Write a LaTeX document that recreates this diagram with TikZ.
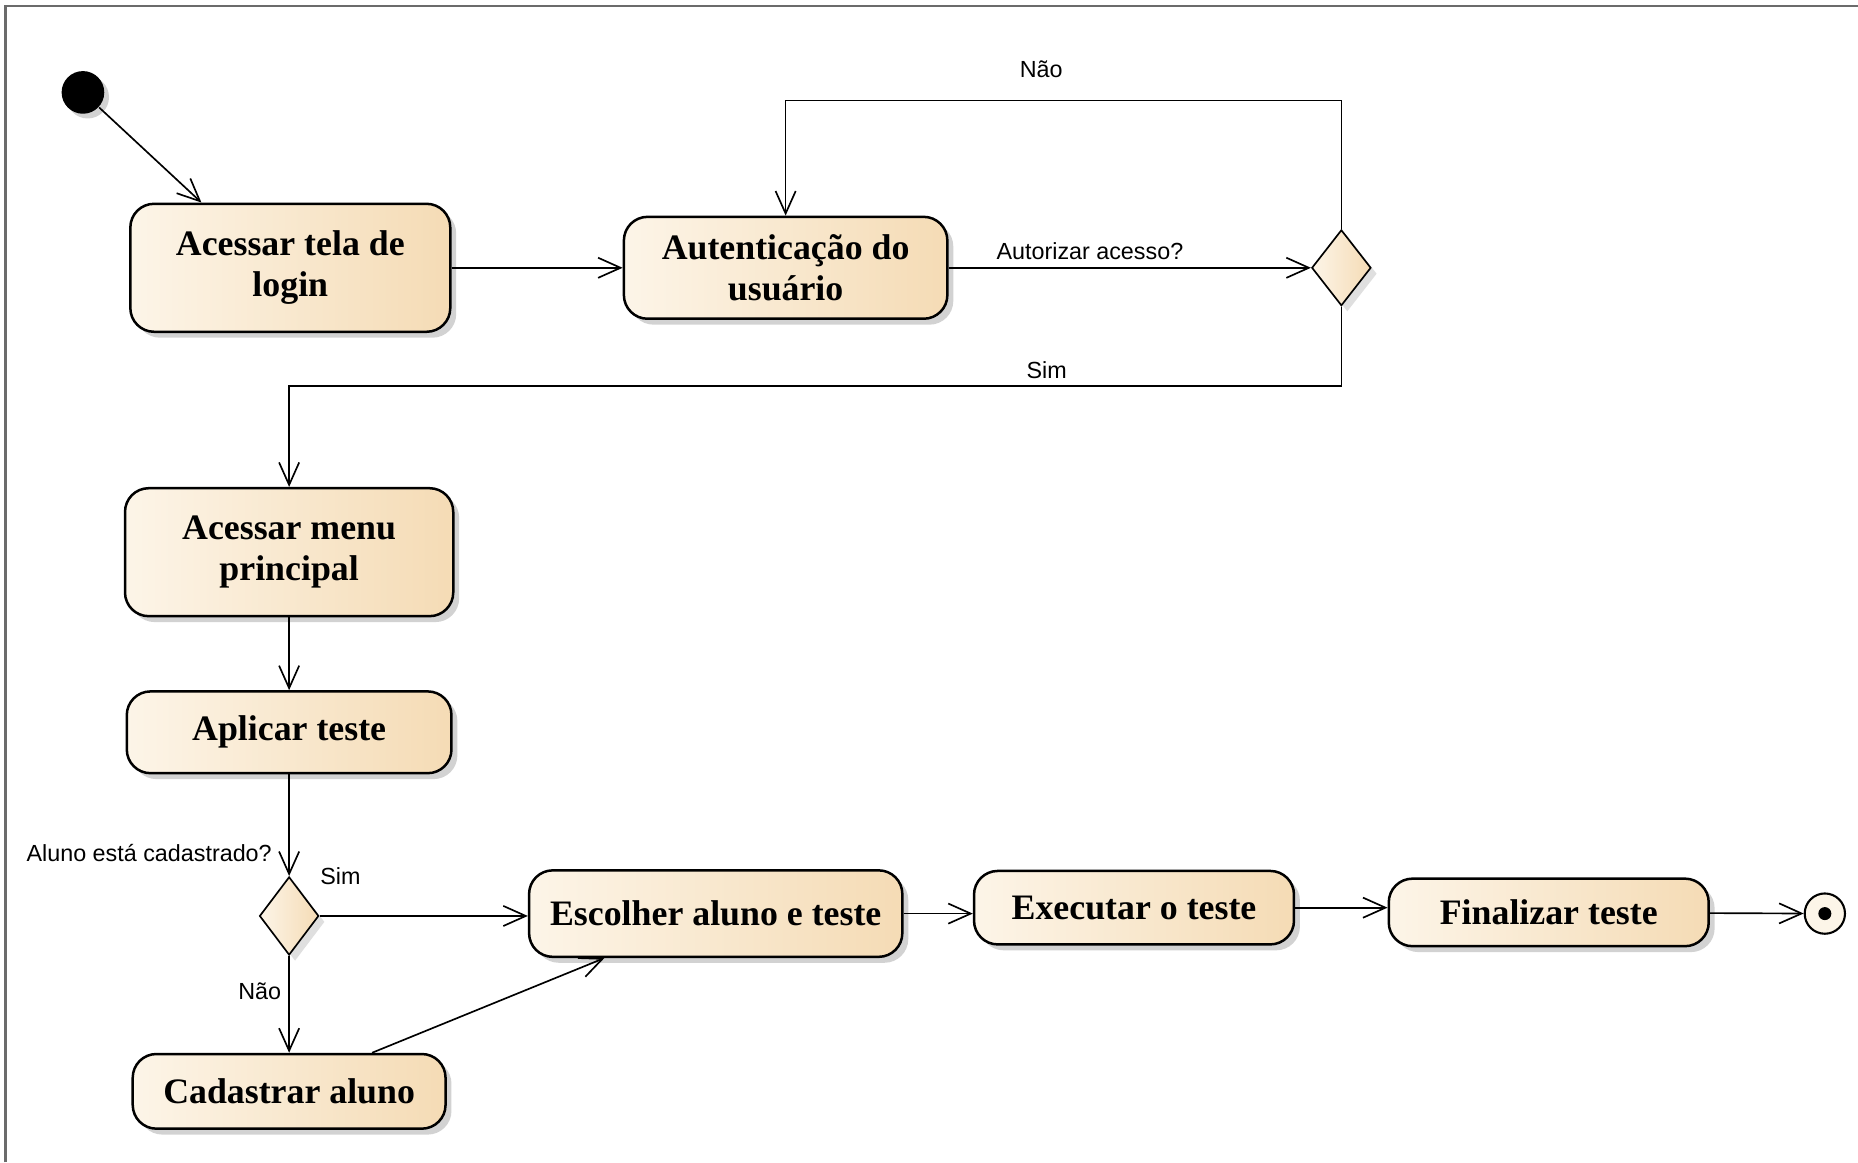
\documentclass[tikz,border=0pt]{standalone}
\usepackage{fontspec}
\setmainfont{Liberation Serif}
\newfontfamily\guardfont{Liberation Sans}
\usepackage{tikz}
\usetikzlibrary{arrows.meta}
\usetikzlibrary{shapes.geometric}
\usetikzlibrary{shadows}
\definecolor{mcream}{rgb}{0.99, 0.96, 0.91}
\definecolor{mpeach}{rgb}{0.96, 0.86, 0.71}
\definecolor{mframe}{rgb}{0.42, 0.42, 0.42}
\tikzset{activity/.style = {draw, line width=0.6pt, rounded corners=2mm,
                            left color=mcream, right color=mpeach,
                            drop shadow={shadow xshift=0.5mm, shadow yshift=-0.5mm, fill=black!35},
                            align=center, inner sep=0pt,
                            font=\fontsize{8.6}{9.8}\selectfont\bfseries}}
\tikzset{decision/.style = {diamond, draw, line width=0.4pt, inner sep=0pt,
                            left color=mcream, right color=mpeach,
                            drop shadow={shadow xshift=0.5mm, shadow yshift=-0.5mm, fill=black!25},
                            minimum width=5mm, minimum height=6.4mm}}
\tikzset{flow/.style = {-{Straight Barb[length=1.9mm, width=1.7mm]}, line width=0.4pt}}
\tikzset{guard/.style = {font=\guardfont\fontsize{5.6}{6.5}\selectfont, inner sep=0.6mm}}

\begin{document}
\begin{tikzpicture}
      \useasboundingbox (0, 0) rectangle (15.68, 9.81);
      \draw [mframe, line width=0.6pt] (0.045, 0) -- (0.045, 9.76) -- (15.68, 9.76);

      \node [circle, fill=black, minimum size=3.6mm, inner sep=0pt,
             drop shadow={shadow xshift=0.4mm, shadow yshift=-0.4mm, fill=black!35}] (start) at (0.70, 9.03) {};
      \node [activity, minimum width=2.70cm, minimum height=1.08cm] (login) at (2.45, 7.55) {Acessar tela de\\login};
      \node [activity, minimum width=2.73cm, minimum height=0.86cm] (auth) at (6.63, 7.55) {Autenticação do\\usuário};
      \node [decision] (dec1) at (11.32, 7.55) {};
      \node [activity, minimum width=2.77cm, minimum height=1.08cm] (menu) at (2.44, 5.15) {Acessar menu\\principal};
      \node [activity, minimum width=2.74cm, minimum height=0.69cm] (apply) at (2.44, 3.63) {Aplicar teste};
      \node [decision, minimum height=6.6mm] (dec2) at (2.44, 2.08) {};
      \node [activity, minimum width=2.64cm, minimum height=0.63cm] (register) at (2.44, 0.60) {Cadastrar aluno};
      \node [activity, minimum width=3.15cm, minimum height=0.73cm] (choose) at (6.04, 2.10) {Escolher aluno e teste};
      \node [activity, minimum width=2.70cm, minimum height=0.62cm] (exec) at (9.57, 2.15) {Executar o teste};
      \node [activity, minimum width=2.70cm, minimum height=0.57cm] (finish) at (13.07, 2.11) {Finalizar teste};
      \node [circle, draw, line width=0.5pt, fill=mcream, minimum size=3.4mm, inner sep=0pt] (theend) at (15.40, 2.10) {};
      \fill (theend) circle (0.055);

      \draw [flow] (start) -- ([xshift=-7.5mm]login.north);
      \draw [flow] (login) -- (auth);
      \draw [flow] (auth) -- (dec1) node [guard, pos=0.39, above] {Autorizar acesso?};
      \draw [flow] (dec1.north) |- ([yshift=9.7mm]auth.north) node [guard, pos=0.77, above=1.3mm] {Não} -- (auth.north);
      \draw [flow] (dec1.south) |- ([yshift=8.5mm]menu.north) node [guard, pos=0.64, above] {Sim} -- (menu.north);
      \draw [flow] (menu) -- (apply);
      \draw [flow] (apply) -- (dec2) node [guard, pos=0.77, left=0.8mm] {Aluno está cadastrado?};
      \draw [flow] (dec2) -- (dec2 -| choose.west) node [guard, pos=0, anchor=south west, xshift=-0.6mm, yshift=2mm] {Sim};
      \draw [flow] (dec2) -- (register) node [guard, pos=0.36, left] {Não};
      \draw [flow] ([xshift=7mm]register.north) -- ([xshift=-9.4mm]choose.south);
      \draw [flow] (choose.east) -- (choose.east -| exec.west);
      \draw [flow] (exec.east) -- (exec.east -| finish.west);
      \draw [flow] (finish) -- (theend);
\end{tikzpicture}
\end{document}
